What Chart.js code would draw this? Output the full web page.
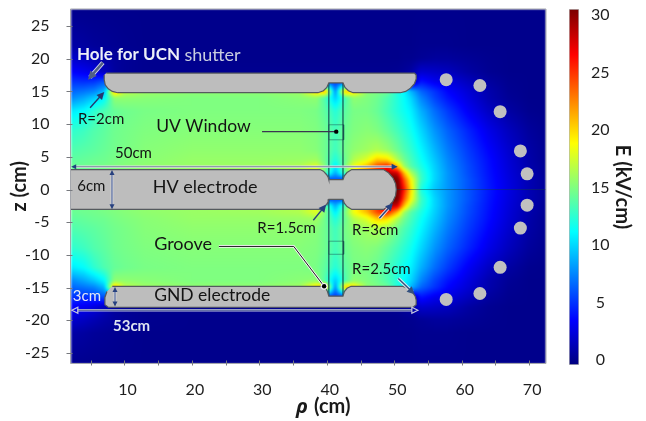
<!DOCTYPE html>
<html>
<head>
<meta charset="utf-8">
<script src="https://cdn.jsdelivr.net/npm/chart.js@4/dist/chart.umd.min.js"></script>
<style>
  html, body { margin: 0; padding: 0; background: #fff; }
  canvas { position: absolute; left: 0; top: 0; }
</style>
</head>
<body>
<canvas id="fieldChart" width="646" height="421"></canvas>
<canvas id="colorbar" width="646" height="421"></canvas>
<script>
// grid the field was read on (cm), only z >= 0, the picture is mirrored about z = 0
const fieldRho = [2, 4, 5.5, 7, 8.5, 10, 13, 20, 30, 36, 38.5, 39.8, 41.3, 42.8, 44, 46, 47.5, 49, 50.5, 51.5, 52.5, 54, 56, 58, 61, 64, 67, 70, 72.5];
const fieldZ = [27.6, 22, 20, 18, 16.5, 15, 14, 12, 9, 6, 4.5, 3.5, 2.5, 1.5, 0];
const fieldE = [
  [0, 0, 0, 0, 0, 0, 0, 0, 0, 0, 0, 0, 0, 0, 0, 0, 0, 0, 0, 0, 0, 0, 0, 0, 0, 0, 0, 0, 0],
  [.8, .6, .4, .3, .2, .1, 0, 0, 0, 0, 0, 0, 0, 0, 0, 0, 0, 0, 0, 0, 0, .1, .1, .1, 0, 0, 0, 0, 0],
  [2, 1.6, 1.2, .8, .5, .3, .1, 0, 0, 0, 0, 0, 0, 0, 0, 0, 0, 0, 0, .1, .1, .3, .5, .5, .3, .1, 0, 0, 0],
  [3.5, 3, 2.5, 1.5, .6, .3, .1, .1, .1, .1, .1, .1, .1, .1, .1, .1, .1, .1, .2, .4, .7, 2, 1.8, 1.5, .7, .2, 0, 0, 0],
  [5, 4.8, 5, 6, .3, .3, .1, .1, .1, .1, .1, 5, 5, 5, .1, .1, .1, .1, .2, .4, .7, 4, 3, 2.5, 1.5, .6, .1, 0, 0],
  [6.5, 7, 7.5, 9, 21, 17, 16, 15.5, 15.5, 16, 20, 21, 7.5, 21, 20, 15.5, 15, 14.5, 12, 11, 9, 6.5, 5, 3.5, 2.2, 1, .2, 0, 0],
  [7.5, 8.5, 9.5, 11, 15.5, 15.5, 15.3, 15, 15, 15.3, 15.5, 13.5, 9.5, 13.5, 15.5, 15, 14.5, 13.5, 12.2, 11.2, 10, 7.5, 5.5, 4, 2.5, 1.1, .3, 0, 0],
  [10.5, 11.2, 12.5, 13.5, 14.2, 14.5, 14.8, 15, 15, 15, 14.8, 14, 12.2, 14, 14.8, 14.8, 14.3, 13.3, 12.2, 11.5, 10.8, 8.8, 6.8, 5.2, 3.2, 1.7, .7, .1, 0],
  [12.5, 13, 13.6, 14, 14.5, 14.7, 15, 15.2, 15.2, 15.2, 15, 14.5, 13.2, 14.5, 15, 15.3, 15, 14.2, 13.2, 12.4, 11.6, 10, 8, 6.4, 4.5, 2.8, 1.5, .5, .1],
  [13.5, 13.8, 14, 14.3, 14.6, 14.8, 15.2, 15.5, 15.5, 15.5, 15.2, 14.5, 13, 14.8, 15.5, 16, 16.5, 15.8, 14.5, 13.5, 12.6, 11, 9, 7.2, 5.2, 3.5, 2, .8, .2],
  [14, 14.2, 14.4, 14.5, 14.8, 15, 15.3, 15.7, 15.7, 15.8, 16, 14.5, 12, 14.5, 16.5, 18, 20.5, 20, 16.5, 14.6, 13.3, 11.5, 9.5, 7.6, 5.5, 3.8, 2.2, .9, .2],
  [14.3, 14.5, 14.6, 14.8, 15, 15.2, 15.5, 15.8, 16, 16.5, 18, 15, 10.5, 15, 18.5, 21, 24.5, 26, 21, 16, 13.8, 12, 9.8, 7.8, 5.7, 3.9, 2.3, 1, .3],
  [14.3, 14.5, 14.6, 14.8, 15, 15.2, 15.5, 15.8, 16, 16.5, 18, 14, 8.5, 14, 18, 22, 25, 29, 28, 21, 16.5, 12.7, 10, 8, 5.8, 4, 2.4, 1.1, .3],
  [14.3, 14.5, 14.6, 14.8, 15, 15.2, 15.5, 15.8, 16, 16.5, 18, 5, 6, 5, 30, 30, 30, 32, 31, 24, 19, 13, 10, 8, 6, 4.1, 2.5, 1.2, .4],
  [14.3, 14.5, 14.6, 14.8, 15, 15.2, 15.5, 15.8, 16, 16.5, 18, 5, 6, 5, 30, 30, 33, 33, 32, 26, 20, 12, 9.5, 8, 6, 4.2, 2.6, 1.2, .4]
];

// electrode outlines (cm)
const hvRho = [1, 39, 39.5, 39.95, 40.2, 40.3, 42.4, 42.6, 43, 43.7, 48.4, 49.15, 49.8, 50.2, 50.3, 50.2, 49.8, 49.15, 48.4, 43.7, 43, 42.6, 42.4, 40.3, 40.2, 39.95, 39.5, 39, 1];
const hvZ = [3.05, 3.05, 2.8, 2.3, 1.9, 1.5, 1.5, 2.1, 2.6, 3.05, 3.05, 2.55, 1.8, .9, 0, -.9, -1.8, -2.55, -3.05, -3.05, -2.6, -2.1, -1.5, -1.5, -1.9, -2.3, -2.8, -3.05, -3.05];
const topRho = [7.3, 53, 53.25, 53.25, 53, 52.4, 51.7, 50.9, 43.9, 43.2, 42.7, 42.4, 40.3, 40, 39.5, 38.7, 9, 8.2, 7.6, 7.15, 7, 7];
const topZ = [17.8, 17.8, 17.5, 16.9, 16.2, 15.5, 15, 14.8, 14.8, 15.1, 15.6, 16.3, 16.3, 15.6, 15.1, 14.8, 14.8, 15, 15.4, 16, 16.8, 17.5];
const gndRho = [8.2, 39.4, 39.9, 40.1, 40.3, 42.4, 42.6, 43, 43.6, 51.3, 52, 52.7, 53.1, 53.25, 53.25, 52.8, 7.6, 7.1, 7.1, 7.4];
const gndZ = [-14.8, -14.8, -15.2, -15.6, -16.3, -16.3, -15.6, -15.1, -14.8, -14.8, -15.1, -15.7, -16.3, -16.9, -17.6, -18, -18, -17.6, -16.5, -15.6];

// grounded rods on the right
const rodRho = [57.7, 62.7, 65.7, 68.7, 69.7, 69.7, 68.7, 65.7, 62.7, 57.7];
const rodZ = [16.8, 15.9, 11.9, 5.9, 2.4, -2.4, -5.9, -11.9, -15.9, -16.8];

// colour scale
const jetValues = [-0.4, 3.45, 11.15, 18.85, 26.55, 30.4];
const jetColors = [[0, 0, 127], [0, 0, 255], [0, 255, 255], [255, 255, 0], [255, 0, 0], [127, 0, 0]];
const colorbarRange = [-0.43, 30.52];

const xTickEvery = 10;

const axisFont = { family: 'Lato', size: 16 };
const titleFont = { family: 'Lato', size: 20, weight: 'bold' };
const tickColor = '#1e1e1e';

// labels in data coordinates
const notes = [
  { text: 'R=2cm', rho: 3.1, z: 10.8, size: 15 },
  { text: 'UV Window', rho: 14.7, z: 9.6, size: 17.5 },
  { text: '50cm', rho: 8.6, z: 5.5, size: 15 },
  { text: '6cm', rho: 3, z: .45, size: 15 },
  { text: 'HV electrode', rho: 14.2, z: .3, size: 18 },
  { text: 'R=1.5cm', rho: 29.7, z: -5.95, size: 15 },
  { text: 'R=3cm', rho: 43.75, z: -6.25, size: 15 },
  { text: 'Groove', rho: 14.4, z: -8.4, size: 18 },
  { text: 'R=2.5cm', rho: 43.75, z: -12.2, size: 15 },
  { text: '3cm', rho: 2.35, z: -16.3, size: 15, color: '#e4e8f4' },
  { text: 'GND electrode', rho: 14.4, z: -16.15, size: 17.5 },
  { text: '53cm', rho: 8.3, z: -20.9, size: 15, color: '#dfe3f0', weight: 'bold' },
  { text: 'Hole for UCN', rho: 2.95, z: 20.6, size: 17, color: '#eceff8', weight: 'bold' },
  { text: 'shutter', rho: 18.9, z: 20.6, size: 18, color: '#c8cce0' }
];

// single headed pointers
const pointers = [
  { from: [6.8, 19.4], to: [4.6, 16.8], color: '#4f5f84', halo: true, width: 2.4 },
  { from: [4.9, 12.5], to: [7, 14.9], color: '#27376e', width: 1.4 },
  { from: [38, -4.7], to: [39.9, -2.3], color: '#27407e', width: 1.4 },
  { from: [47.8, -4.4], to: [49.8, -2.1], color: '#27407e', halo: true, width: 1.4 },
  { from: [50.6, -13.6], to: [53, -16], color: '#33507e', halo: true, width: 1.4 }
];

function fieldAt(rho, z) {
  z = Math.abs(z);
  let i = 0, j = 0;
  while (i < fieldRho.length - 2 && rho > fieldRho[i + 1]) i++;
  while (j < fieldZ.length - 2 && z < fieldZ[j + 1]) j++;
  const tx = Math.min(1, Math.max(0, (rho - fieldRho[i]) / (fieldRho[i + 1] - fieldRho[i])));
  const ty = Math.min(1, Math.max(0, (fieldZ[j] - z) / (fieldZ[j] - fieldZ[j + 1])));
  const top = fieldE[j][i] * (1 - tx) + fieldE[j][i + 1] * tx;
  const bottom = fieldE[j + 1][i] * (1 - tx) + fieldE[j + 1][i + 1] * tx;
  return top * (1 - ty) + bottom * ty;
}

function jet(v) {
  if (v <= jetValues[0]) return jetColors[0];
  for (let k = 1; k < jetValues.length; k++) {
    if (v <= jetValues[k]) {
      const t = (v - jetValues[k - 1]) / (jetValues[k] - jetValues[k - 1]);
      const a = jetColors[k - 1], b = jetColors[k];
      return [a[0] + (b[0] - a[0]) * t, a[1] + (b[1] - a[1]) * t, a[2] + (b[2] - a[2]) * t];
    }
  }
  return jetColors[jetColors.length - 1];
}

function points(xs, ys) {
  return xs.map((x, i) => ({ x: x, y: ys[i] }));
}

function outline(xs, ys) {
  return {
    type: 'line', data: points(xs, ys), parsing: false, fill: 'shape', backgroundColor: '#bdbdbd',
    borderColor: '#555a5e', borderWidth: 1.2, pointRadius: 0, tension: 0
  };
}

function thinLine(xs, ys) {
  return {
    type: 'line', data: points(xs, ys), parsing: false, fill: false,
    borderColor: 'rgba(20,60,70,0.45)', borderWidth: 1, pointRadius: 0
  };
}

const fieldMap = {
  id: 'fieldMap',
  beforeDatasetsDraw(chart) {
    const area = chart.chartArea, sx = chart.scales.x, sy = chart.scales.y;
    const w = Math.round(area.right - area.left), h = Math.round(area.bottom - area.top);
    const off = document.createElement('canvas');
    off.width = w; off.height = h;
    const octx = off.getContext('2d');
    const img = octx.createImageData(w, h);
    for (let py = 0; py < h; py++) {
      const z = sy.getValueForPixel(area.top + py + .5);
      for (let px = 0; px < w; px++) {
        const c = jet(fieldAt(sx.getValueForPixel(area.left + px + .5), z));
        const n = (py * w + px) * 4;
        img.data[n] = c[0]; img.data[n + 1] = c[1]; img.data[n + 2] = c[2]; img.data[n + 3] = 255;
      }
    }
    octx.putImageData(img, 0, 0);
    const ctx = chart.ctx;
    ctx.save();
    ctx.beginPath();
    ctx.rect(area.left, area.top, area.right - area.left, area.bottom - area.top);
    ctx.clip();
    ctx.filter = 'blur(0.8px)';
    ctx.drawImage(off, area.left, area.top, area.right - area.left, area.bottom - area.top);
    ctx.restore();
  }
};

function arrowHead(ctx, x, y, angle, size, hollow) {
  ctx.save();
  ctx.translate(x, y);
  ctx.rotate(angle);
  ctx.beginPath();
  ctx.moveTo(0, 0);
  ctx.lineTo(-size, -size * .5);
  ctx.lineTo(-size, size * .5);
  ctx.closePath();
  if (hollow) ctx.stroke(); else ctx.fill();
  ctx.restore();
}

function segment(ctx, x1, y1, x2, y2, color, width) {
  ctx.strokeStyle = color;
  ctx.lineWidth = width;
  ctx.beginPath();
  ctx.moveTo(x1, y1);
  ctx.lineTo(x2, y2);
  ctx.stroke();
}

const markup = {
  id: 'markup',
  afterDatasetsDraw(chart) {
    const ctx = chart.ctx, sx = chart.scales.x, sy = chart.scales.y, area = chart.chartArea;
    const X = v => sx.getPixelForValue(v), Y = v => sy.getPixelForValue(v);
    ctx.save();

    // 50cm span
    segment(ctx, X(2.8), Y(3.5), X(50.2), Y(3.5), '#dfe0e8', 2.2);
    segment(ctx, X(2.8), Y(3.5), X(50.2), Y(3.5), '#6e7694', .8);
    ctx.fillStyle = '#1f3f80';
    arrowHead(ctx, X(50.5), Y(3.5), 0, 6, false);
    arrowHead(ctx, X(2.1), Y(3.5), Math.PI, 5, false);

    // 53cm span, hollow heads
    segment(ctx, X(3), Y(-18.45), X(52.6), Y(-18.45), '#c4c8e0', 2.6);
    segment(ctx, X(3), Y(-18.45), X(52.6), Y(-18.45), '#3c4a8c', 1);
    ctx.strokeStyle = '#c4c8e0';
    ctx.lineWidth = 1.2;
    arrowHead(ctx, X(53.5), Y(-18.45), 0, 6, true);
    arrowHead(ctx, X(2.2), Y(-18.45), Math.PI, 6, true);

    // electrode thickness arrows
    [[8.15, 3, -3], [8.6, -14.9, -17.9]].forEach(a => {
      segment(ctx, X(a[0]), Y(a[1]) + 2, X(a[0]), Y(a[2]) - 2, '#ececf2', 2.4);
      segment(ctx, X(a[0]), Y(a[1]) + 2, X(a[0]), Y(a[2]) - 2, '#27407e', 1);
      ctx.fillStyle = '#27407e';
      arrowHead(ctx, X(a[0]), Y(a[1]), -Math.PI / 2, 5, false);
      arrowHead(ctx, X(a[0]), Y(a[2]), Math.PI / 2, 5, false);
    });

    pointers.forEach(p => {
      const x1 = X(p.from[0]), y1 = Y(p.from[1]), x2 = X(p.to[0]), y2 = Y(p.to[1]);
      const ang = Math.atan2(y2 - y1, x2 - x1);
      if (p.halo) segment(ctx, x1, y1, x2 - 3 * Math.cos(ang), y2 - 3 * Math.sin(ang), 'rgba(235,235,240,0.9)', p.width + 2);
      segment(ctx, x1, y1, x2 - 3 * Math.cos(ang), y2 - 3 * Math.sin(ang), p.color, p.width);
      ctx.fillStyle = p.color;
      arrowHead(ctx, x2, y2, ang, 6 + p.width, false);
    });

    // UV window leader
    segment(ctx, X(30.4), Y(8.85), X(41.4), Y(8.85), '#3a3550', 1.1);
    // groove leader
    ctx.lineJoin = 'round';
    [['#f4f4f4', 2.6], ['#1a1a1a', 1]].forEach(s => {
      ctx.strokeStyle = s[0];
      ctx.lineWidth = s[1];
      ctx.beginPath();
      ctx.moveTo(X(24), Y(-8.7));
      ctx.lineTo(X(35.1), Y(-8.7));
      ctx.lineTo(X(39.6), Y(-14.8));
      ctx.stroke();
    });
    ctx.fillStyle = '#f4f4f4';
    ctx.beginPath(); ctx.arc(X(39.6), Y(-14.8), 3.4, 0, 7); ctx.fill();
    ctx.fillStyle = '#000';
    ctx.beginPath(); ctx.arc(X(39.6), Y(-14.8), 2.2, 0, 7); ctx.fill();
    ctx.beginPath(); ctx.arc(X(41.4), Y(8.85), 2.2, 0, 7); ctx.fill();

    // labels
    ctx.textAlign = 'left';
    ctx.textBaseline = 'middle';
    notes.forEach(n => {
      ctx.font = (n.weight || 'normal') + ' ' + n.size + 'px Lato';
      ctx.fillStyle = n.color || '#141414';
      ctx.fillText(n.text, X(n.rho), Y(n.z));
    });

    // frame and tick marks, the ticks straddle the axis
    ctx.strokeStyle = '#a4a6ac';
    ctx.lineWidth = 1;
    ctx.strokeRect(area.left, area.top, area.right - area.left, area.bottom - area.top);
    ctx.strokeStyle = '#77797e';
    sx.ticks.forEach(t => {
      const p = Math.round(X(t.value)) + .5;
      ctx.beginPath(); ctx.moveTo(p, area.bottom - 3); ctx.lineTo(p, area.bottom + 2); ctx.stroke();
    });
    sy.ticks.forEach(t => {
      const p = Math.round(Y(t.value)) + .5;
      ctx.beginPath(); ctx.moveTo(area.left - 4, p); ctx.lineTo(area.left + 2, p); ctx.stroke();
    });

    // x title, the rho is italic
    ctx.fillStyle = '#1a1a1a';
    ctx.font = 'italic bold 20px "Open Sans"';
    ctx.fillText('ρ', 296, 407);
    ctx.font = 'bold 20px Lato';
    ctx.fillText('(cm)', 314, 407);
    ctx.restore();
  }
};

new Chart(document.getElementById('fieldChart'), {
  type: 'scatter',
  data: {
    datasets: [
      outline(hvRho, hvZ),
      outline(topRho, topZ),
      outline(gndRho, gndZ),
      { type: 'scatter', data: points(rodRho, rodZ), parsing: false, backgroundColor: '#c0c0c0', borderWidth: 0, pointRadius: 6.5 },
      thinLine([50.3, 72.5], [0, 0]),
      thinLine([40.3, 40.3], [16.3, 1.5]),
      thinLine([42.4, 42.4], [16.3, 1.5]),
      thinLine([40.3, 40.3], [-1.5, -16.3]),
      thinLine([42.4, 42.4], [-1.5, -16.3]),
      thinLine([40.3, 42.5, 42.5, 40.3, 40.3], [9.9, 9.9, 7.6, 7.6, 9.9]),
      thinLine([40.3, 42.5, 42.5, 40.3, 40.3], [-7.9, -7.9, -9.9, -9.9, -7.9])
    ]
  },
  options: {
    responsive: false,
    animation: false,
    layout: { padding: { top: 9, right: 100, left: 0, bottom: 0 } },
    plugins: { legend: { display: false }, tooltip: { enabled: false } },
    scales: {
      x: {
        type: 'linear', min: 2, max: 72.5,
        afterFit(scale) { scale.height = 57.5; scale.paddingLeft = 0; scale.paddingRight = 0; },
        grid: { display: false },
        border: { display: false },
        ticks: {
          stepSize: 5, includeBounds: false, autoSkip: false, maxRotation: 0, padding: 9, labelOffset: 3,
          color: tickColor, font: axisFont,
          callback: v => (v % xTickEvery === 0 ? String(v) : '')
        }
      },
      y: {
        type: 'linear', min: -26.6, max: 27.6,
        afterFit(scale) { scale.width = 70.5; scale.paddingTop = 0; scale.paddingBottom = 0; },
        grid: { display: false },
        border: { display: false },
        title: { display: true, text: 'z (cm)', font: titleFont, color: '#1a1a1a', padding: { top: 8, bottom: 0 } },
        ticks: { stepSize: 5, includeBounds: false, autoSkip: false, padding: 13, color: tickColor, font: axisFont }
      }
    }
  },
  plugins: [fieldMap, markup]
});

new Chart(document.getElementById('colorbar'), {
  type: 'bar',
  data: {
    labels: ['E'],
    datasets: [{
      data: [colorbarRange],
      barPercentage: 1,
      categoryPercentage: 1,
      borderWidth: 1,
      borderColor: '#b4b4b4',
      borderSkipped: false,
      backgroundColor(ctx) {
        const y = ctx.chart.scales.y;
        const from = y ? y.getPixelForValue(colorbarRange[0]) : NaN;
        const to = y ? y.getPixelForValue(colorbarRange[1]) : NaN;
        if (!Number.isFinite(from) || !Number.isFinite(to)) return '#0000ff';
        const g = ctx.chart.ctx.createLinearGradient(0, from, 0, to);
        const span = colorbarRange[1] - colorbarRange[0];
        jetValues.forEach((v, i) => {
          const t = Math.min(1, Math.max(0, (v - colorbarRange[0]) / span));
          g.addColorStop(t, 'rgb(' + jetColors[i].join(',') + ')');
        });
        return g;
      }
    }]
  },
  options: {
    responsive: false,
    animation: false,
    layout: { padding: { top: 9, left: 569, right: 0, bottom: 56 } },
    plugins: { legend: { display: false }, tooltip: { enabled: false } },
    scales: {
      x: { display: false },
      y: {
        position: 'right', min: colorbarRange[0], max: colorbarRange[1],
        afterFit(scale) { scale.width = 67; scale.paddingTop = 0; scale.paddingBottom = 0; },
        grid: { display: false },
        border: { display: false },
        title: { display: true, text: 'E (kV/cm)', font: titleFont, color: '#1a1a1a', padding: { top: 12, bottom: 0 } },
        ticks: { stepSize: 5, includeBounds: false, padding: 4, crossAlign: 'center', color: tickColor, font: axisFont }
      }
    }
  }
});
</script>
</body>
</html>
